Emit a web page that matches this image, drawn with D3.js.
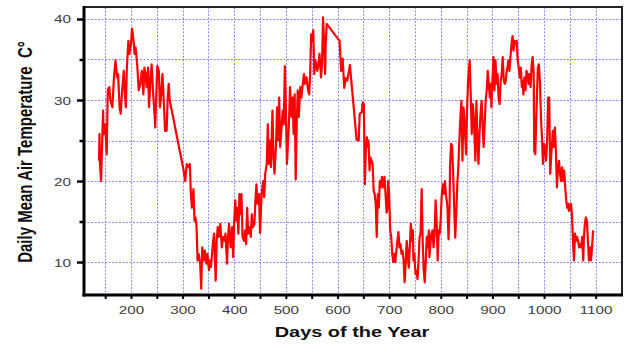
<!DOCTYPE html>
<html>
<head>
<meta charset="utf-8">
<script src="https://cdn.jsdelivr.net/npm/d3@7"></script>
<style>
  body { margin: 0; background: #fff; }
  svg { display: block; }
</style>
</head>
<body>
<svg id="chart" width="631" height="344"></svg>
<script>
// values, day number and daily mean air temperature (°C)
const dayOfYear = [
  138, 139, 140, 142, 146, 147, 150, 153, 155, 158, 160, 164, 167, 170, 173, 175, 178, 180, 183, 186,
  187, 190, 192, 195, 197, 200, 202, 205, 207, 209, 212, 215, 218, 221, 224, 226, 229, 230, 233, 235,
  238, 240, 243, 246, 247, 249, 251, 254, 256, 258, 261, 264, 266, 269, 271, 273, 275, 279,
  302, 305, 308, 311, 314, 316, 318, 321, 323, 325, 327, 329, 331, 334, 336, 338, 341, 343, 346, 348,
  351, 353, 355, 357, 359, 361, 364, 366, 368, 370, 373, 376, 378, 381, 383, 386, 388, 390, 393, 396,
  398, 400, 402, 404, 406, 408, 410, 412, 414, 416, 419, 421, 423, 425, 427, 430, 432, 434, 436, 439,
  441, 443, 445, 448, 450, 453, 456, 458, 460, 462,
  463, 465, 467, 469, 471, 474, 476, 478, 481, 483, 485, 487, 489, 492, 494, 496, 498, 500, 502, 505,
  507, 508, 511, 513, 515, 517, 519, 521, 523, 525, 528, 530, 532, 535, 537, 540, 543, 545, 547, 549,
  551, 553, 555, 557, 559, 561, 563, 565, 567, 568, 570, 572, 574, 576, 577, 579,
  604, 607, 608, 610, 613, 616, 619, 624,
  637, 641, 643, 647, 649, 651, 653, 655, 657, 658, 660, 662, 664, 666, 668, 670, 672, 674, 676, 678,
  680, 682, 684, 686, 689, 691, 693, 695, 697, 698, 700, 702, 704, 706, 708, 710, 712, 714, 716, 718,
  720, 722, 724, 726, 728, 730, 732, 734, 736, 738, 740, 742, 744, 746, 747, 749, 751, 753, 755, 757,
  759, 761, 763, 765, 767, 769, 771, 773, 775, 777, 778, 780, 782, 784, 786, 788, 790, 792, 794, 796,
  798, 800, 802, 804, 806, 808,
  810, 813, 815, 817, 818, 820, 822, 824, 826, 828, 830, 832, 834, 836, 838, 840, 842, 844, 846, 847,
  849, 851, 853, 856, 858, 860, 862, 864, 866, 867, 869, 871, 873, 875, 877, 879, 881, 883, 885, 887,
  889, 891, 893, 895, 897, 898, 900, 902, 904, 906, 908, 910, 912, 914, 916, 918, 920, 922, 924, 926,
  927, 929, 931, 933, 935, 937, 939, 941, 943, 945, 947, 949, 951, 953, 955, 957, 958, 960, 962, 964,
  966, 968, 970, 972, 974, 976, 978, 980, 981,
  983, 985, 987, 988, 990, 992, 994, 996, 998, 1000, 1002, 1004, 1006, 1008, 1010, 1012, 1014, 1016, 1017, 1019,
  1021, 1023, 1025, 1027, 1029, 1031, 1033, 1035, 1037, 1039, 1041, 1043, 1045, 1047, 1048, 1050, 1052, 1054, 1056, 1058,
  1060, 1062, 1064, 1066, 1068, 1070, 1072, 1074, 1076, 1077, 1079, 1081, 1083, 1085, 1087, 1089, 1091, 1093, 1095
];

const meanTemp = [
  22.5, 25.8, 22.1, 20.0, 28.7, 25.8, 27.0, 23.3, 31.2, 31.6, 30.0, 29.1, 32.8, 34.9, 32.8, 33.2, 29.1, 28.3, 31.2, 33.6,
  32.0, 29.1, 34.0, 37.3, 35.7, 36.9, 38.8, 37.3, 35.7, 36.5, 34.4, 31.2, 32.0, 33.6, 30.7, 34.0, 32.8, 31.6, 34.0, 29.1,
  32.8, 34.4, 30.7, 27.9, 26.6, 30.7, 34.2, 33.6, 29.1, 30.3, 33.2, 29.1, 26.2, 26.2, 30.0, 32.0, 30.0, 28.7,
  21.3, 20.0, 22.1, 21.7, 22.1, 18.4, 16.7, 19.0, 15.1, 15.5, 14.3, 10.2, 11.0, 9.8, 6.7, 11.8, 10.2, 11.4, 9.8, 11.0,
  9.0, 10.2, 9.4, 11.0, 12.6, 13.5, 7.7, 12.6, 14.3, 13.1, 14.7, 11.8, 13.1, 12.6, 13.5, 9.8, 13.1, 14.7, 11.8, 14.3,
  10.6, 15.1, 17.6, 15.1, 16.7, 13.5, 18.4, 15.9, 18.4, 13.1, 12.6, 13.9, 12.2, 16.7, 13.5, 14.3, 13.1, 15.9, 14.3, 14.7,
  17.6, 19.6, 17.2, 18.4, 13.6, 18.4, 20.0, 18.0, 20.9, 21.7,
  22.1, 27.0, 22.1, 25.0, 21.7, 28.7, 22.9, 20.9, 24.6, 29.1, 25.0, 30.3, 24.2, 27.0, 28.7, 27.0, 34.2, 29.1, 22.1, 25.8,
  29.1, 31.6, 27.9, 30.3, 25.8, 30.7, 20.2, 27.0, 31.2, 27.9, 31.6, 30.3, 31.6, 33.2, 32.0, 32.8, 31.2, 30.7, 33.2, 38.1,
  37.3, 38.6, 33.2, 34.9, 34.4, 33.6, 34.4, 35.7, 34.0, 32.8, 34.4, 40.2, 37.3, 33.2, 36.5, 39.4,
  37.3, 33.6, 34.0, 35.1, 31.5, 32.7, 32.4, 34.3,
  25.1, 25.0, 28.3, 28.5, 29.7, 29.5, 19.6, 24.2, 25.4, 24.2, 25.0, 21.3, 22.9, 22.5, 22.1, 18.8, 18.4, 17.2, 13.1, 18.4,
  16.7, 20.0, 19.2, 20.5, 19.2, 20.5, 18.4, 16.1, 16.7, 20.0, 18.4, 13.9, 13.1, 11.0, 10.0, 11.0, 10.0, 11.4, 12.6, 13.7,
  11.8, 12.2, 11.0, 11.4, 10.2, 7.5, 9.8, 12.6, 11.0, 9.3, 11.8, 14.7, 12.6, 13.9, 10.2, 11.0, 8.5, 8.9, 7.9, 10.2,
  13.1, 13.5, 19.0, 12.6, 8.9, 7.5, 10.2, 13.1, 11.8, 13.9, 10.6, 12.2, 13.5, 13.9, 11.8, 13.5, 17.6, 15.1, 10.2, 13.9,
  13.5, 15.5, 18.4, 19.6, 18.4, 20.0,
  18.4, 16.7, 12.8, 16.7, 21.7, 24.6, 24.2, 20.9, 16.7, 13.0, 15.9, 19.6, 21.7, 25.0, 27.9, 29.9, 22.5, 29.1, 27.5, 25.8,
  23.3, 29.1, 32.4, 34.9, 30.7, 25.8, 29.5, 27.9, 24.2, 22.5, 29.9, 25.0, 22.1, 25.8, 28.3, 29.9, 27.0, 24.2, 27.0, 29.9,
  31.2, 33.6, 32.0, 30.3, 32.0, 29.1, 32.4, 35.3, 31.2, 34.9, 32.0, 33.2, 30.3, 29.5, 32.4, 33.2, 35.3, 32.4, 32.0, 32.4,
  33.2, 34.0, 34.9, 33.6, 35.3, 36.9, 37.9, 36.1, 37.3, 36.9, 37.3, 34.9, 34.0, 32.8, 34.0, 31.6, 32.4, 30.7, 32.8, 31.2,
  33.6, 33.2, 32.0, 33.2, 31.6, 34.4, 35.3, 33.2, 23.7,
  23.3, 27.9, 32.0, 34.0, 34.4, 32.4, 27.9, 25.4, 22.1, 24.6, 24.2, 22.5, 25.0, 30.3, 30.3, 20.9, 23.3, 25.0, 26.2, 24.2,
  26.6, 23.7, 19.2, 21.7, 22.5, 20.9, 20.0, 21.7, 20.0, 21.3, 19.2, 17.6, 16.7, 17.2, 16.3, 16.7, 17.2, 15.9, 12.6, 10.2,
  13.5, 12.6, 13.1, 12.6, 11.8, 12.2, 11.8, 13.1, 10.2, 12.6, 14.7, 15.5, 15.1, 12.6, 10.2, 11.8, 10.2, 11.8, 13.9
];

const xTickLabels = [200, 300, 400, 500, 600, 700, 800, 900, 1000, 1100];
const yTickLabels = [10, 20, 30, 40];
const yMinorTicks = [15, 25, 35];
const xGridDays = d3.range(150, 1101, 50);
const yGridTemps = d3.range(10, 41, 5);

const plot = { left: 84, right: 622, top: 7, bottom: 295 };
const stretch = 1.33; // the reference text is widened horizontally
const font = "'Liberation Sans', Arial, sans-serif";

const svg = d3.select("#chart");
const x = d3.scaleLinear().domain([109, 1151]).range([plot.left, plot.right]);
const y = d3.scaleLinear().domain([5.93, 41.48]).range([plot.bottom, plot.top]);

// dotted blue grid
const grid = svg.append("g")
  .attr("stroke", "#3c3cff")
  .attr("stroke-opacity", 0.6)
  .attr("stroke-width", 1)
  .attr("stroke-dasharray", "2,1.5");

grid.selectAll("line.v").data(xGridDays).join("line")
  .attr("class", "v")
  .attr("x1", d => Math.round(x(d)) + 0.5).attr("x2", d => Math.round(x(d)) + 0.5)
  .attr("y1", plot.top).attr("y2", plot.bottom);

grid.selectAll("line.h").data(yGridTemps).join("line")
  .attr("class", "h")
  .attr("x1", plot.left).attr("x2", plot.right)
  .attr("y1", d => Math.round(y(d)) + 0.5).attr("y2", d => Math.round(y(d)) + 0.5);

// temperature line
const line = d3.line()
  .x(d => x(d[0]))
  .y(d => y(d[1]));

svg.append("path")
  .datum(d3.zip(dayOfYear, meanTemp))
  .attr("fill", "none")
  .attr("stroke", "#ff0000")
  .attr("stroke-width", 2.2)
  .attr("stroke-linejoin", "round")
  .attr("d", line);

// frame
svg.append("rect")
  .attr("x", plot.left).attr("y", plot.top)
  .attr("width", plot.right - plot.left).attr("height", plot.bottom - plot.top)
  .attr("fill", "none")
  .attr("stroke", "#222")
  .attr("stroke-width", 2);

// x axis
const xAxis = svg.append("g")
  .attr("transform", `translate(0,${plot.bottom})`)
  .call(d3.axisBottom(x)
    .tickValues(xGridDays)
    .tickSize(4)
    .tickFormat(d => xTickLabels.includes(d) ? d : ""));

xAxis.select(".domain")
  .attr("stroke", "#000")
  .attr("stroke-width", 3)
  .attr("d", `M${plot.left - 1.5},0H${plot.right + 1}`);
xAxis.selectAll(".tick line").attr("stroke", "#000").attr("stroke-width", 2);
xAxis.selectAll(".tick text")
  .attr("y", null).attr("dy", null)
  .attr("transform", `translate(0,19) scale(${stretch},1)`)
  .attr("fill", "#404040")
  .attr("font-family", font)
  .attr("font-size", 11.5);

// y axis, major ticks with labels
const yAxis = svg.append("g")
  .attr("transform", `translate(${plot.left},0)`)
  .call(d3.axisLeft(y).tickValues(yTickLabels).tickSize(7));

yAxis.select(".domain")
  .attr("stroke", "#000")
  .attr("stroke-width", 3)
  .attr("d", `M0,${plot.top - 1}V${plot.bottom + 1.5}`);
yAxis.selectAll(".tick line").attr("stroke", "#000").attr("stroke-width", 2.5);
yAxis.selectAll(".tick text")
  .attr("x", null).attr("dy", null)
  .attr("transform", `translate(-13,4) scale(${stretch},1)`)
  .attr("fill", "#404040")
  .attr("font-family", font)
  .attr("font-size", 11.5);

// y axis, minor ticks
const yMinor = svg.append("g")
  .attr("transform", `translate(${plot.left},0)`)
  .call(d3.axisLeft(y).tickValues(yMinorTicks).tickSize(4.5).tickFormat(""));
yMinor.select(".domain").remove();
yMinor.selectAll(".tick line").attr("stroke", "#000").attr("stroke-width", 2.5);

// axis titles
svg.append("text")
  .attr("transform", `translate(352,337) scale(${stretch},1)`)
  .attr("text-anchor", "middle")
  .attr("font-family", font)
  .attr("font-weight", "bold")
  .attr("font-size", 15)
  .attr("fill", "#111")
  .text("Days of the Year");

svg.append("text")
  .attr("transform", `translate(32,152) scale(${stretch},1) rotate(-90)`)
  .attr("text-anchor", "middle")
  .attr("font-family", font)
  .attr("font-weight", "bold")
  .attr("font-size", 15)
  .attr("fill", "#111")
  .text("Daily Mean Air Temperature\u00a0\u00a0C°");
</script>
</body>
</html>
